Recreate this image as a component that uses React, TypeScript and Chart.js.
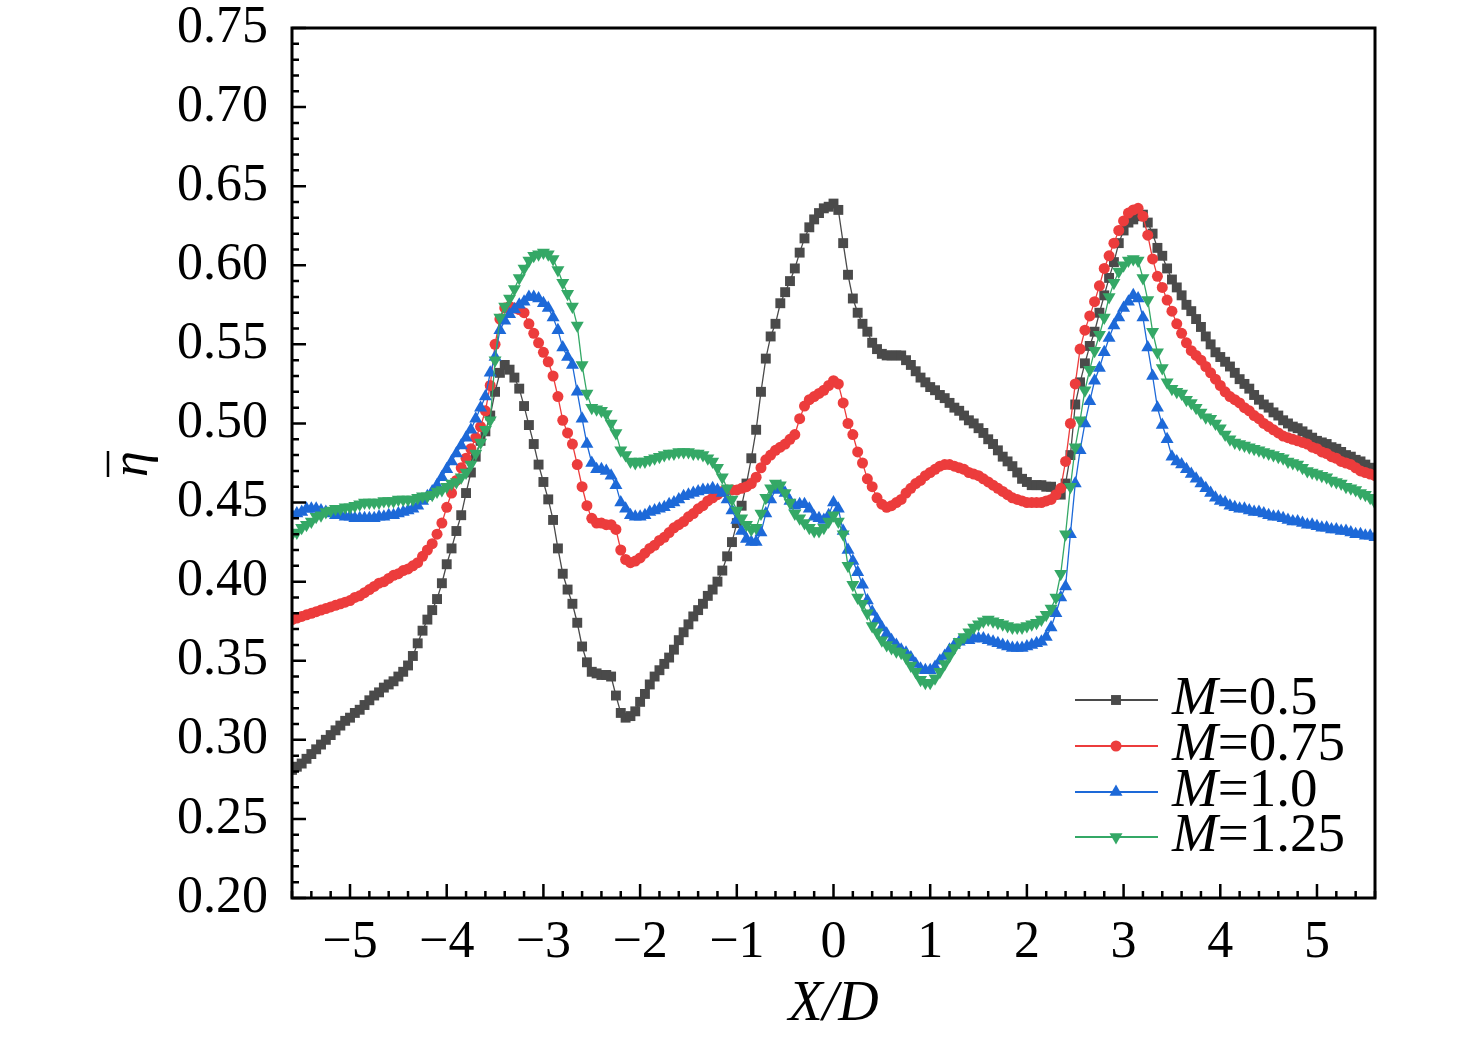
import React, { useEffect, useRef } from 'react';
import { Chart, registerables } from 'chart.js';

Chart.register(...registerables);

// X/D positions of the samples
const xD = [
  -5.6, -5.55, -5.5, -5.45, -5.4, -5.35, -5.3, -5.25, -5.2, -5.15,
  -5.1, -5.05, -5.0, -4.95, -4.9, -4.85, -4.8, -4.75, -4.7, -4.65,
  -4.6, -4.55, -4.5, -4.45, -4.4, -4.35, -4.3, -4.25, -4.2, -4.15,
  -4.1, -4.05, -4.0, -3.95, -3.9, -3.85, -3.8, -3.75, -3.7, -3.65,
  -3.6, -3.55, -3.5, -3.45, -3.4, -3.35, -3.3, -3.25, -3.2, -3.15,
  -3.1, -3.05, -3.0, -2.95, -2.9, -2.85, -2.8, -2.75, -2.7, -2.65,
  -2.6, -2.55, -2.5, -2.45, -2.4, -2.35, -2.3, -2.25, -2.2, -2.15,
  -2.1, -2.05, -2.0, -1.95, -1.9, -1.85, -1.8, -1.75, -1.7, -1.65,
  -1.6, -1.55, -1.5, -1.45, -1.4, -1.35, -1.3, -1.25, -1.2, -1.15,
  -1.1, -1.05, -1.0, -0.95, -0.9, -0.85, -0.8, -0.75, -0.7, -0.65,
  -0.6, -0.55, -0.5, -0.45, -0.4, -0.35, -0.3, -0.25, -0.2, -0.15,
  -0.1, -0.05, 0.0, 0.05, 0.1, 0.15, 0.2, 0.25, 0.3, 0.35,
  0.4, 0.45, 0.5, 0.55, 0.6, 0.65, 0.7, 0.75, 0.8, 0.85,
  0.9, 0.95, 1.0, 1.05, 1.1, 1.15, 1.2, 1.25, 1.3, 1.35,
  1.4, 1.45, 1.5, 1.55, 1.6, 1.65, 1.7, 1.75, 1.8, 1.85,
  1.9, 1.95, 2.0, 2.05, 2.1, 2.15, 2.2, 2.25, 2.3, 2.35,
  2.4, 2.45, 2.5, 2.55, 2.6, 2.65, 2.7, 2.75, 2.8, 2.85,
  2.9, 2.95, 3.0, 3.05, 3.1, 3.15, 3.2, 3.25, 3.3, 3.35,
  3.4, 3.45, 3.5, 3.55, 3.6, 3.65, 3.7, 3.75, 3.8, 3.85,
  3.9, 3.95, 4.0, 4.05, 4.1, 4.15, 4.2, 4.25, 4.3, 4.35,
  4.4, 4.45, 4.5, 4.55, 4.6, 4.65, 4.7, 4.75, 4.8, 4.85,
  4.9, 4.95, 5.0, 5.05, 5.1, 5.15, 5.2, 5.25, 5.3, 5.35,
  5.4, 5.45, 5.5, 5.55, 5.6,
];

// laterally averaged effectiveness, one array per blowing ratio
const etaM05 = [
  0.281, 0.283, 0.285, 0.288, 0.291, 0.294, 0.297, 0.300, 0.303, 0.306,
  0.309, 0.312, 0.314, 0.317, 0.319, 0.322, 0.325, 0.328, 0.330, 0.333,
  0.335, 0.337, 0.340, 0.343, 0.347, 0.353, 0.361, 0.369, 0.376, 0.382,
  0.389, 0.399, 0.411, 0.421, 0.432, 0.442, 0.456, 0.469, 0.479, 0.489,
  0.495, 0.505, 0.520, 0.532, 0.537, 0.534, 0.529, 0.522, 0.511, 0.499,
  0.487, 0.474, 0.463, 0.452, 0.439, 0.421, 0.405, 0.395, 0.386, 0.374,
  0.359, 0.349, 0.343, 0.342, 0.341, 0.341, 0.340, 0.328, 0.317, 0.314,
  0.315, 0.318, 0.324, 0.329, 0.335, 0.340, 0.344, 0.348, 0.352, 0.357,
  0.363, 0.368, 0.373, 0.378, 0.382, 0.386, 0.391, 0.395, 0.400, 0.407,
  0.416, 0.425, 0.437, 0.448, 0.462, 0.478, 0.496, 0.520, 0.541, 0.555,
  0.563, 0.576, 0.583, 0.590, 0.598, 0.608, 0.617, 0.624, 0.629, 0.633,
  0.636, 0.637, 0.639, 0.635, 0.614, 0.594, 0.579, 0.570, 0.563, 0.558,
  0.551, 0.547, 0.544, 0.543, 0.543, 0.543, 0.543, 0.540, 0.537, 0.533,
  0.529, 0.526, 0.523, 0.521, 0.518, 0.516, 0.513, 0.510, 0.508, 0.505,
  0.502, 0.500, 0.497, 0.494, 0.490, 0.487, 0.483, 0.479, 0.476, 0.473,
  0.469, 0.465, 0.463, 0.461, 0.461, 0.461, 0.460, 0.460, 0.457, 0.455,
  0.462, 0.480, 0.512, 0.526, 0.538, 0.549, 0.558, 0.570, 0.581, 0.592,
  0.602, 0.614, 0.622, 0.627, 0.629, 0.631, 0.632, 0.627, 0.620, 0.611,
  0.606, 0.598, 0.591, 0.586, 0.581, 0.575, 0.571, 0.566, 0.561, 0.555,
  0.550, 0.545, 0.542, 0.539, 0.536, 0.532, 0.528, 0.525, 0.522, 0.518,
  0.515, 0.512, 0.510, 0.507, 0.505, 0.502, 0.500, 0.498, 0.497, 0.495,
  0.493, 0.491, 0.489, 0.488, 0.487, 0.485, 0.484, 0.482, 0.480, 0.479,
  0.477, 0.476, 0.474, 0.472, 0.471,
];
const etaM075 = [
  0.376, 0.377, 0.378, 0.379, 0.380, 0.381, 0.382, 0.383, 0.384, 0.385,
  0.386, 0.387, 0.388, 0.390, 0.391, 0.393, 0.395, 0.397, 0.399, 0.400,
  0.402, 0.404, 0.405, 0.407, 0.408, 0.410, 0.412, 0.416, 0.420, 0.424,
  0.430, 0.437, 0.447, 0.456, 0.464, 0.472, 0.478, 0.484, 0.491, 0.498,
  0.508, 0.524, 0.550, 0.566, 0.573, 0.574, 0.573, 0.572, 0.570, 0.563,
  0.557, 0.551, 0.545, 0.539, 0.530, 0.517, 0.502, 0.494, 0.487, 0.474,
  0.460, 0.448, 0.440, 0.437, 0.437, 0.436, 0.436, 0.433, 0.420, 0.414,
  0.412, 0.413, 0.415, 0.418, 0.421, 0.423, 0.426, 0.428, 0.431, 0.434,
  0.436, 0.438, 0.441, 0.443, 0.446, 0.448, 0.451, 0.453, 0.455, 0.457,
  0.458, 0.458, 0.458, 0.459, 0.460, 0.462, 0.466, 0.472, 0.477, 0.480,
  0.483, 0.485, 0.487, 0.490, 0.493, 0.503, 0.511, 0.515, 0.517, 0.519,
  0.521, 0.524, 0.527, 0.525, 0.513, 0.500, 0.493, 0.482, 0.475, 0.465,
  0.460, 0.453, 0.449, 0.447, 0.448, 0.450, 0.452, 0.456, 0.459, 0.462,
  0.464, 0.467, 0.469, 0.471, 0.473, 0.474, 0.474, 0.473, 0.472, 0.471,
  0.469, 0.468, 0.467, 0.465, 0.463, 0.461, 0.459, 0.457, 0.455, 0.453,
  0.452, 0.451, 0.450, 0.450, 0.450, 0.450, 0.451, 0.452, 0.455, 0.459,
  0.476, 0.500, 0.525, 0.547, 0.559, 0.568, 0.577, 0.587, 0.598, 0.606,
  0.614, 0.622, 0.628, 0.633, 0.635, 0.636, 0.631, 0.619, 0.604, 0.593,
  0.586, 0.578, 0.571, 0.563, 0.557, 0.551, 0.546, 0.543, 0.540, 0.536,
  0.532, 0.528, 0.524, 0.520, 0.517, 0.515, 0.513, 0.510, 0.508, 0.505,
  0.503, 0.500, 0.498, 0.496, 0.494, 0.492, 0.491, 0.490, 0.489, 0.488,
  0.487, 0.485, 0.484, 0.482, 0.481, 0.479, 0.478, 0.476, 0.475, 0.474,
  0.472, 0.470, 0.469, 0.468, 0.467,
];
const etaM10 = [
  0.442, 0.443, 0.444, 0.446, 0.446, 0.446, 0.445, 0.444, 0.443, 0.442,
  0.442, 0.441, 0.441, 0.440, 0.440, 0.440, 0.440, 0.440, 0.441, 0.441,
  0.442, 0.442, 0.443, 0.444, 0.445, 0.446, 0.448, 0.451, 0.454, 0.457,
  0.461, 0.466, 0.471, 0.476, 0.481, 0.486, 0.491, 0.496, 0.503, 0.510,
  0.517, 0.532, 0.542, 0.559, 0.565, 0.569, 0.572, 0.575, 0.577, 0.580,
  0.580, 0.579, 0.576, 0.573, 0.567, 0.559, 0.548, 0.542, 0.537, 0.520,
  0.503, 0.487, 0.475, 0.471, 0.471, 0.470, 0.467, 0.461, 0.450, 0.446,
  0.442, 0.441, 0.441, 0.442, 0.444, 0.445, 0.446, 0.447, 0.449, 0.450,
  0.452, 0.454, 0.455, 0.456, 0.457, 0.458, 0.458, 0.459, 0.458, 0.456,
  0.452, 0.445, 0.439, 0.432, 0.427, 0.425, 0.425, 0.431, 0.443, 0.452,
  0.458, 0.460, 0.456, 0.451, 0.448, 0.449, 0.449, 0.446, 0.441, 0.440,
  0.439, 0.442, 0.450, 0.446, 0.432, 0.420, 0.413, 0.406, 0.398, 0.388,
  0.381, 0.376, 0.371, 0.367, 0.363, 0.360, 0.357, 0.355, 0.352, 0.348,
  0.345, 0.344, 0.344, 0.346, 0.350, 0.353, 0.357, 0.360, 0.362, 0.363,
  0.363, 0.364, 0.364, 0.364, 0.363, 0.362, 0.361, 0.360, 0.359, 0.358,
  0.358, 0.358, 0.359, 0.360, 0.361, 0.362, 0.365, 0.371, 0.380, 0.390,
  0.397, 0.430, 0.462, 0.483, 0.500, 0.514, 0.527, 0.535, 0.545, 0.554,
  0.562, 0.567, 0.573, 0.577, 0.581, 0.579, 0.567, 0.548, 0.530, 0.510,
  0.499, 0.490, 0.479, 0.476, 0.474, 0.471, 0.468, 0.465, 0.462, 0.459,
  0.456, 0.453, 0.451, 0.450, 0.448, 0.447, 0.446, 0.446, 0.445, 0.444,
  0.444, 0.443, 0.442, 0.441, 0.441, 0.440, 0.439, 0.438, 0.438, 0.437,
  0.436, 0.436, 0.435, 0.434, 0.434, 0.433, 0.433, 0.432, 0.432, 0.431,
  0.430, 0.430, 0.429, 0.429, 0.428,
];
const etaM125 = [
  0.430, 0.431, 0.434, 0.436, 0.438, 0.441, 0.442, 0.444, 0.445, 0.446,
  0.446, 0.447, 0.447, 0.448, 0.449, 0.450, 0.450, 0.450, 0.450, 0.451,
  0.451, 0.451, 0.452, 0.452, 0.452, 0.452, 0.453, 0.454, 0.454, 0.455,
  0.457, 0.458, 0.460, 0.462, 0.463, 0.466, 0.469, 0.474, 0.481, 0.488,
  0.496, 0.502, 0.540, 0.567, 0.574, 0.579, 0.585, 0.592, 0.598, 0.603,
  0.606, 0.607, 0.608, 0.607, 0.604, 0.597, 0.589, 0.582, 0.574, 0.562,
  0.537, 0.519, 0.510, 0.509, 0.508, 0.506, 0.500, 0.494, 0.483, 0.480,
  0.476, 0.475, 0.476, 0.476, 0.477, 0.478, 0.479, 0.480, 0.481, 0.481,
  0.482, 0.482, 0.482, 0.481, 0.481, 0.480, 0.478, 0.476, 0.472, 0.466,
  0.459, 0.452, 0.445, 0.440, 0.436, 0.433, 0.434, 0.443, 0.453, 0.459,
  0.462, 0.461, 0.456, 0.450, 0.443, 0.440, 0.437, 0.434, 0.432, 0.432,
  0.434, 0.438, 0.442, 0.438, 0.430, 0.410, 0.398, 0.390, 0.386, 0.380,
  0.372, 0.368, 0.363, 0.360, 0.358, 0.356, 0.355, 0.352, 0.347, 0.343,
  0.338, 0.336, 0.336, 0.339, 0.343, 0.348, 0.353, 0.358, 0.362, 0.365,
  0.368, 0.371, 0.373, 0.375, 0.376, 0.375, 0.374, 0.373, 0.372, 0.371,
  0.371, 0.371, 0.372, 0.373, 0.374, 0.376, 0.379, 0.383, 0.390, 0.405,
  0.430, 0.460, 0.485, 0.502, 0.521, 0.534, 0.546, 0.556, 0.567, 0.580,
  0.589, 0.596, 0.600, 0.603, 0.604, 0.603, 0.592, 0.578, 0.558, 0.545,
  0.535, 0.526, 0.522, 0.520, 0.519, 0.515, 0.513, 0.510, 0.507, 0.504,
  0.503, 0.500, 0.497, 0.493, 0.490, 0.488, 0.487, 0.486, 0.485, 0.484,
  0.483, 0.482, 0.481, 0.480, 0.479, 0.478, 0.476, 0.475, 0.474, 0.472,
  0.470, 0.469, 0.468, 0.467, 0.466, 0.464, 0.463, 0.462, 0.460, 0.459,
  0.458, 0.456, 0.455, 0.453, 0.450,
];

const blowingRatios = ['0.5', '0.75', '1.0', '1.25'];
const seriesData = [etaM05, etaM075, etaM10, etaM125];
const seriesColors = ['#4a4a4a', '#ec3c3c', '#1d69d8', '#34a866'];
const markerStyles = ['rect', 'circle', 'triangle', 'triangle'];
const markerRotations = [0, 0, 0, 180];
const markerRadius = [7, 5.5, 7.5, 7.5];

const SERIF = '"Liberation Serif", "Times New Roman", serif';

const drawMarker = (ctx: CanvasRenderingContext2D, style: string, rot: number, r: number, x: number, y: number) => {
  ctx.beginPath();
  if (style === 'rect') {
    const s = Math.SQRT1_2 * r;
    ctx.rect(x - s, y - s, 2 * s, 2 * s);
  } else if (style === 'circle') {
    ctx.arc(x, y, r, 0, Math.PI * 2);
  } else {
    let a = (rot * Math.PI) / 180;
    for (let k = 0; k < 3; k++) {
      const px = x + Math.sin(a) * r;
      const py = y - Math.cos(a) * r;
      if (k === 0) ctx.moveTo(px, py);
      else ctx.lineTo(px, py);
      a += (2 * Math.PI) / 3;
    }
    ctx.closePath();
  }
  ctx.fill();
};

// frame, inward ticks, axis titles and legend
const decorations = {
  id: 'decorations',
  afterDraw(chart: any) {
    const { ctx, chartArea: a, scales } = chart;
    ctx.save();
    ctx.strokeStyle = '#000';
    ctx.lineCap = 'butt';

    ctx.lineWidth = 2.5;
    ctx.beginPath();
    for (let i = -28; i <= 28; i++) {
      const px = scales.x.getPixelForValue(i * 0.2);
      const len = i % 5 === 0 ? 14 : 7;
      ctx.moveTo(px, a.bottom);
      ctx.lineTo(px, a.bottom - len);
    }
    for (let i = 20; i <= 75; i++) {
      const py = scales.y.getPixelForValue(i / 100);
      const len = i % 5 === 0 ? 14 : 7;
      ctx.moveTo(a.left, py);
      ctx.lineTo(a.left + len, py);
    }
    ctx.stroke();

    ctx.lineWidth = 3;
    ctx.strokeRect(a.left, a.top, a.right - a.left, a.bottom - a.top);

    ctx.fillStyle = '#000';
    ctx.font = `italic 56px ${SERIF}`;
    ctx.textAlign = 'center';
    ctx.textBaseline = 'middle';
    ctx.fillText('X/D', (a.left + a.right) / 2, 1005);

    ctx.save();
    ctx.translate(147, 464);
    ctx.rotate(-Math.PI / 2);
    ctx.font = `italic 52px ${SERIF}`;
    ctx.textBaseline = 'alphabetic';
    ctx.fillText('\u03b7', 0, 0);
    ctx.lineWidth = 2.5;
    ctx.beginPath();
    ctx.moveTo(-13, -39);
    ctx.lineTo(13, -39);
    ctx.stroke();
    ctx.restore();

    const rowY = [700, 746, 792, 837];
    blowingRatios.forEach((m, i) => {
      const y = rowY[i];
      ctx.strokeStyle = seriesColors[i];
      ctx.fillStyle = seriesColors[i];
      ctx.lineWidth = 2;
      ctx.beginPath();
      ctx.moveTo(1075, y);
      ctx.lineTo(1158, y);
      ctx.stroke();
      drawMarker(ctx, markerStyles[i], markerRotations[i], markerRadius[i], 1116, y);

      ctx.fillStyle = '#000';
      ctx.textAlign = 'left';
      ctx.textBaseline = 'middle';
      ctx.font = `italic 55px ${SERIF}`;
      ctx.fillText('M', 1172, y);
      const w = ctx.measureText('M').width;
      ctx.font = `55px ${SERIF}`;
      ctx.fillText('=' + m, 1172 + w, y);
    });
    ctx.restore();
  },
};

const EtaChart: React.FC = () => {
  const canvasRef = useRef<HTMLCanvasElement | null>(null);
  const chartRef = useRef<Chart | null>(null);

  useEffect(() => {
    if (!canvasRef.current) return;
    if (chartRef.current) chartRef.current.destroy();

    const datasets = seriesData.map((vals, i) => ({
      label: 'M=' + blowingRatios[i],
      data: xD.map((x, j) => ({ x, y: vals[j] })),
      showLine: true,
      borderColor: seriesColors[i],
      backgroundColor: seriesColors[i],
      borderWidth: 1.3,
      pointStyle: markerStyles[i] as any,
      pointRotation: markerRotations[i],
      pointRadius: markerRadius[i],
      pointBorderWidth: 0,
      pointBackgroundColor: seriesColors[i],
      order: 3 - i,
    }));

    chartRef.current = new Chart(canvasRef.current, {
      type: 'scatter',
      data: { datasets },
      options: {
        responsive: true,
        maintainAspectRatio: false,
        animation: false,
        layout: { padding: { top: 28, right: 101, left: 0, bottom: 0 } },
        plugins: { legend: { display: false }, tooltip: { enabled: false } },
        scales: {
          x: {
            type: 'linear',
            min: -5.6,
            max: 5.6,
            grid: { display: false, drawTicks: false },
            border: { display: false },
            ticks: {
              stepSize: 1,
              includeBounds: false,
              padding: 14,
              color: '#000',
              font: { family: SERIF, size: 52 },
              callback: (v: any) => (v < 0 ? '\u2212' + Math.abs(v) : String(v)),
            },
            afterFit: (s: any) => {
              s.height = 145;
              s.paddingLeft = 0;
              s.paddingRight = 0;
            },
          },
          y: {
            type: 'linear',
            min: 0.2,
            max: 0.75,
            grid: { display: false, drawTicks: false },
            border: { display: false },
            ticks: {
              stepSize: 0.05,
              padding: 24,
              color: '#000',
              font: { family: SERIF, size: 52 },
              callback: (v: any) => Number(v).toFixed(2),
            },
            afterFit: (s: any) => {
              s.width = 292;
              s.paddingTop = 0;
              s.paddingBottom = 0;
            },
          },
        },
      },
      plugins: [decorations],
    });

    return () => {
      if (chartRef.current) {
        chartRef.current.destroy();
        chartRef.current = null;
      }
    };
  }, []);

  return (
    <div style={{ position: 'absolute', left: 0, top: 0, width: 1476, height: 1043, background: '#fff' }}>
      <canvas ref={canvasRef}></canvas>
    </div>
  );
};

export default function App() {
  return <EtaChart />;
}
